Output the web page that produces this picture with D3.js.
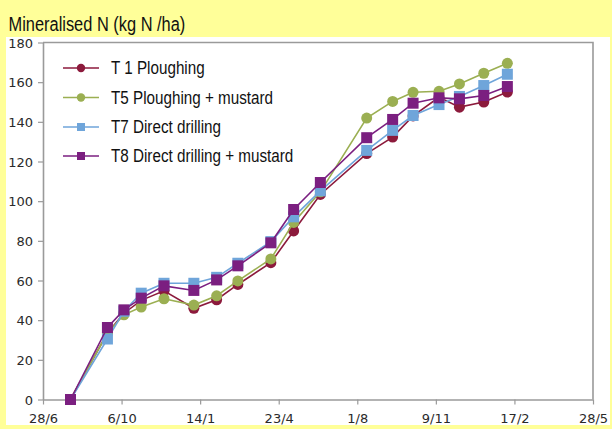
<!DOCTYPE html>
<html>
<head>
<meta charset="utf-8">
<script src="https://cdn.jsdelivr.net/npm/d3@7"></script>
<style>
  html, body { margin: 0; padding: 0; background: #FFFF99; }
  svg { display: block; }
</style>
</head>
<body>
<svg id="chart" width="612" height="429"></svg>
<script>
// ---- Data (days since 28/6) ----
const days = [35, 82, 103, 125, 154, 192, 221, 248, 290, 319, 353, 412, 445, 471, 504, 530, 561, 591];
const t1 = [0, 33.5, 43.5, 50, 54.8, 46, 50.3, 58, 69, 85, 103.4, 124, 132.3, 143, 152.4, 147.4, 150, 155];
const t5 = [0, 33.5, 42.7, 46.6, 50.8, 47.6, 52.3, 59.8, 70.9, 89.3, 104.7, 141.9, 150.3, 154.9, 155.4, 159.1, 164.5, 169.5];
const t7 = [0, 30.5, 44.5, 53.6, 58.6, 58.6, 61.6, 68.7, 79.6, 92.1, 105.2, 125.6, 135.7, 143.2, 148.7, 152.8, 158.3, 164];
const t8 = [0, 36.3, 45.2, 51.1, 57.3, 55, 60.3, 67.4, 79, 95.8, 109.4, 132, 141.2, 149.4, 152.1, 151.6, 153.3, 157.8];
const seriesNames = ["T 1 Ploughing", "T5 Ploughing + mustard", "T7 Direct drilling", "T8 Direct drilling + mustard"];
const seriesColors = ["#8C1A3C", "#9BAF52", "#6FA5DA", "#7B1F80"];
const seriesShapes = ["circle", "circle", "square", "square"];
const xTickValues = [0, 100, 200, 300, 400, 500, 600, 700];
const xTickLabels = ["28/6", "6/10", "14/1", "23/4", "1/8", "9/11", "17/2", "28/5"];
const yTickValues = [0, 20, 40, 60, 80, 100, 120, 140, 160, 180];
const titleText = "Mineralised N (kg N /ha)";

const seriesValues = [t1, t5, t7, t8];

const svg = d3.select("#chart");
const W = 612, H = 429;
const m = { left: 43, right: 593, top: 42.5, bottom: 399.5 };
const narrowFont = "'Liberation Sans', Arial, sans-serif";

function condense(ratio) {
  return sel => sel.each(function () {
    const w = this.getComputedTextLength();
    d3.select(this).attr("textLength", w * ratio).attr("lengthAdjust", "spacingAndGlyphs");
  });
}

// backgrounds
svg.append("rect").attr("x", 0).attr("y", 0).attr("width", W).attr("height", H).attr("fill", "#FFFF99");
svg.append("rect").attr("x", 6).attr("y", 37).attr("width", 604).attr("height", 388).attr("fill", "#ffffff");

// title
svg.append("text")
  .attr("x", 8.5).attr("y", 30.5)
  .attr("font-family", narrowFont)
  .attr("font-size", 20)
  .attr("fill", "#111")
  .text(titleText)
  .call(condense(0.82));

const x = d3.scaleLinear().domain([0, 700]).range([m.left, m.right]);
const y = d3.scaleLinear().domain([0, 180]).range([m.bottom, m.top]);

// frame (top and right)
const frameColor = "#9a9a9a";
svg.append("path")
  .attr("d", `M${m.left},${m.top}H${m.right}V${m.bottom}`)
  .attr("fill", "none").attr("stroke", frameColor).attr("stroke-width", 1.6);

// axes
const xAxis = d3.axisBottom(x).tickValues(xTickValues).tickSize(5).tickSizeOuter(0)
  .tickFormat((d, i) => xTickLabels[i]);
const gx = svg.append("g").attr("transform", `translate(0,${m.bottom})`).call(xAxis);
const yAxis = d3.axisLeft(y).tickValues(yTickValues).tickSize(5).tickSizeOuter(0);
const gy = svg.append("g").attr("transform", `translate(${m.left},0)`).call(yAxis);

[gx, gy].forEach(g => {
  g.select(".domain").attr("stroke", frameColor).attr("stroke-width", 1.6);
  g.selectAll(".tick line").attr("stroke", frameColor).attr("stroke-width", 1.2);
  g.selectAll("text")
    .attr("font-family", "'DejaVu Sans', sans-serif")
    .attr("font-size", 13)
    .attr("fill", "#2a2a2a");
});
gx.selectAll("text").attr("dy", null).attr("y", 23);
gy.selectAll("text").attr("x", -10).attr("dy", "0.35em");

// series
const line = d3.line().x(d => x(d[0])).y(d => y(d[1]));
seriesValues.forEach((vals, si) => {
  const pts = days.map((d, i) => [d, vals[i]]);
  const g = svg.append("g");
  g.append("path").datum(pts).attr("d", line)
    .attr("fill", "none").attr("stroke", seriesColors[si]).attr("stroke-width", 1.6);
  if (seriesShapes[si] === "circle") {
    g.selectAll("circle").data(pts).join("circle")
      .attr("cx", d => x(d[0])).attr("cy", d => y(d[1])).attr("r", 5.5)
      .attr("fill", seriesColors[si]);
  } else {
    g.selectAll("rect").data(pts).join("rect")
      .attr("x", d => x(d[0]) - 5.5).attr("y", d => y(d[1]) - 5.5)
      .attr("width", 11).attr("height", 11)
      .attr("fill", seriesColors[si]);
  }
});

// legend
const legendRows = [68, 97.5, 127, 156];
seriesNames.forEach((name, i) => {
  const ly = legendRows[i];
  const g = svg.append("g");
  g.append("line").attr("x1", 63).attr("x2", 99).attr("y1", ly).attr("y2", ly)
    .attr("stroke", seriesColors[i]).attr("stroke-width", 1.6);
  if (seriesShapes[i] === "circle") {
    g.append("circle").attr("cx", 81).attr("cy", ly).attr("r", 4.2).attr("fill", seriesColors[i]);
  } else {
    g.append("rect").attr("x", 77).attr("y", ly - 4).attr("width", 8).attr("height", 8).attr("fill", seriesColors[i]);
  }
  g.append("text").attr("x", 111).attr("y", ly + 6)
    .attr("font-family", narrowFont)
    .attr("font-size", 17.5)
    .attr("fill", "#111")
    .text(name)
    .call(condense(0.87));
});
</script>
</body>
</html>
